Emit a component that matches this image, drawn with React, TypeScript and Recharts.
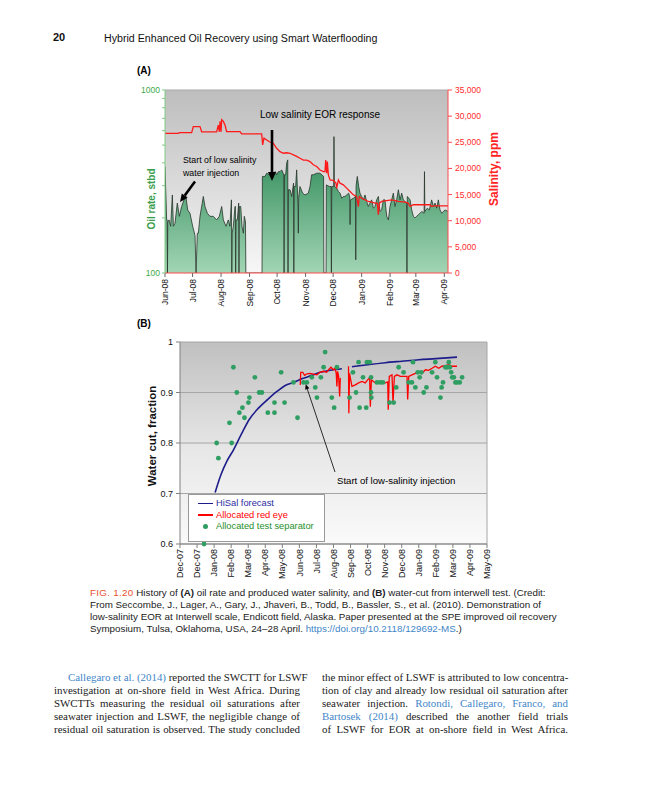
import React from "react";
import {
  Area,
  CartesianGrid,
  ComposedChart,
  Line,
  ReferenceLine,
  Scatter,
  XAxis,
  YAxis,
} from "recharts";

const SANS = '"Liberation Sans", Arial, Helvetica, sans-serif';
const SERIF = '"Liberation Serif", "Times New Roman", serif';

/* ---------- (A) oil rate and salinity, x = days since 1 Jun 2008 ---------- */

const monthTicksA = [0, 30, 61, 92, 122, 153, 183, 214, 245, 273, 304];
const monthLabelsA = [
  "Jun-08", "Jul-08", "Aug-08", "Sep-08", "Oct-08", "Nov-08",
  "Dec-08", "Jan-09", "Feb-09", "Mar-09", "Apr-09",
];
const oilTicks = [100, 200, 300, 400, 500, 600, 700, 800, 900, 1000];
const salinityTicks = [0, 5000, 10000, 15000, 20000, 25000, 30000, 35000];

// [day, stbd]
const oilRate: [number, number][] = [
  [0, 382], [1.8, 195], [2.4, 195], [2.7, 100], [3.0, 190], [4.4, 195], [6.2, 180],
  [8.0, 267], [9.1, 180], [10.9, 187], [13.4, 241], [15.6, 204], [18.1, 231],
  [20.7, 251], [22.5, 267], [24.7, 221], [27.2, 212], [30.1, 180], [32.7, 160],
  [33.8, 100], [35.2, 165], [36.3, 165], [38.1, 204], [41.7, 262], [43.5, 231],
  [46.1, 212], [49.0, 204], [52.6, 204], [56.2, 195], [59.1, 204], [61.7, 231],
  [63.5, 195], [66.4, 180], [68.9, 195], [70.7, 180], [72.3, 251], [72.7, 100],
  [73.1, 165], [74.4, 180], [76.2, 231], [76.6, 231], [76.9, 100], [77.3, 195],
  [78.7, 195], [80.2, 241], [80.5, 100], [80.9, 231], [82.4, 231], [83.8, 180],
  [85.3, 165], [86.3, 204], [87.6, 190], [88.0, 100], [105.6, 100], [106.0, 337],
  [108.8, 337], [110.7, 351], [113.6, 344], [116.1, 337], [117.9, 351], [120.1, 358],
  [121.5, 344], [123.4, 358], [125.2, 358], [127.0, 366], [129.3, 344], [129.6, 100],
  [130.0, 344], [131.3, 344], [132.4, 398], [133.6, 415], [133.9, 100], [134.3, 285],
  [136.1, 285], [137.9, 262], [139.9, 310], [140.2, 100], [140.6, 297], [142.2, 297],
  [143.3, 366], [144.8, 230], [145.1, 165], [145.5, 260], [146.9, 297], [149.8, 273],
  [152.4, 267], [156.0, 273], [157.8, 297], [159.6, 344], [161.4, 344], [165.1, 351],
  [168.7, 351], [172.6, 337], [172.9, 100], [175.3, 100], [175.6, 303], [178.9, 297],
  [180.8, 297], [181.1, 100], [181.5, 297], [183.6, 297], [183.9, 556], [184.3, 297],
  [186.8, 291], [188.7, 279], [190.5, 273], [192.3, 256], [194.1, 262], [195.9, 262],
  [197.7, 267], [199.9, 273], [201.1, 260], [201.4, 184], [201.8, 251], [205.0, 256],
  [207.3, 262], [207.6, 118], [208.0, 300], [209.3, 337], [210.8, 297], [212.2, 273],
  [214.0, 262], [215.9, 251], [217.7, 267], [219.5, 246], [221.3, 231], [223.1, 241],
  [224.9, 251], [226.8, 226], [228.6, 231], [230.4, 251], [232.2, 262], [234.0, 217],
  [235.8, 221], [237.6, 251], [239.4, 251], [241.3, 204], [243.1, 195], [244.9, 231],
  [246.7, 251], [248.5, 273], [250.3, 231], [252.1, 251], [254.0, 285], [255.8, 251],
  [257.6, 273], [259.4, 251], [263.0, 241], [263.3, 100], [263.7, 262], [266.7, 251],
  [268.5, 221], [270.3, 204], [272.1, 200], [273.9, 204], [275.7, 208], [277.5, 212],
  [279.4, 217], [282.0, 212], [282.4, 358], [282.8, 217], [285.5, 226], [287.7, 221],
  [290.2, 251], [292.1, 231], [293.9, 241], [295.7, 226], [297.5, 251], [299.3, 221],
  [301.1, 212], [302.9, 217], [304.8, 221], [308, 217],
];

// [day, ppm]
const salinity: [number, number][] = [
  [0, 26700], [14.5, 26700], [15.6, 26850], [29, 26850], [30.8, 28000], [38.1, 28000],
  [39.9, 27000], [56.2, 27000], [58, 28300], [59.1, 27000], [59.9, 29000], [61, 27000],
  [61.7, 29300], [63.5, 29000], [65.3, 28300], [67.1, 27050], [81.6, 27050],
  [83.4, 26600], [105.2, 26600], [106.3, 24500], [107.7, 25800], [110.7, 25450],
  [113.6, 25100], [117.9, 24800], [121.5, 23860], [125.2, 23200], [128.8, 22900],
  [132.4, 23000], [136.1, 22900], [139.7, 22600], [143.3, 22300], [146.9, 21950],
  [150.6, 21600], [154.2, 21600], [157.8, 21300], [161.4, 20700], [165.1, 20360],
  [168.7, 19700], [172.3, 19400], [174.1, 19400], [174.9, 21600], [176, 19100],
  [176.7, 21300], [177.8, 18770], [179.6, 17800], [183.2, 17700], [186.1, 17180],
  [186.8, 16200], [188.7, 17800], [190.5, 17180], [194.1, 16860], [197.7, 16230],
  [201.4, 15600], [205, 14950], [208.6, 14640], [210.4, 12700], [211.5, 14640],
  [214, 14300], [217.7, 14000], [221.3, 13680], [224.9, 13550], [228.6, 13360],
  [231.1, 13360], [232.2, 11140], [233.3, 13360], [235.8, 13680], [246.7, 14000],
  [254, 13680], [261.2, 13550], [264.8, 13360], [266.7, 12730], [270.3, 13050],
  [288.4, 13050], [290.2, 12730], [292.1, 12850], [308, 12850],
];

/* ---------- (B) water cut, x = month index from Dec-07 ---------- */

const monthLabelsB = [
  "Dec-07", "Dec-07", "Jan-08", "Feb-08", "Mar-08", "Apr-08", "May-08", "Jun-08",
  "Jul-08", "Aug-08", "Sep-08", "Oct-08", "Nov-08", "Dec-08", "Jan-09", "Feb-09",
  "Mar-09", "Apr-09", "May-09",
];
const waterCutTicks = [0.6, 0.7, 0.8, 0.9, 1];

const hisalForecast: [number, number | null][] = [
  [2.06, 0.702], [2.4, 0.737], [2.75, 0.764], [3.13, 0.786], [3.62, 0.819],
  [4.07, 0.847], [4.6, 0.869], [5.13, 0.886], [5.68, 0.902], [6.17, 0.914],
  [6.65, 0.92], [7.14, 0.927], [7.73, 0.934], [8.22, 0.94], [8.8, 0.944],
  [9.49, 0.947], [9.8, null], [10.08, 0.951], [11.0, 0.955], [12.04, 0.959],
  [13.01, 0.962], [14.0, 0.965], [15.0, 0.967], [16.24, 0.97],
];

const redEye: [number, number | null][] = [
  [7.05, 0.915], [7.08, 0.94], [7.2, 0.94], [7.3, 0.934], [7.45, 0.937], [7.63, 0.938],
  [8.03, 0.935], [8.2, 0.94], [8.42, 0.942], [8.6, 0.94], [8.71, 0.945], [8.85, 0.95],
  [9.0, 0.945], [9.1, 0.948], [9.16, 0.938], [9.2, 0.912], [9.24, 0.942], [9.3, 0.932],
  [9.36, 0.892], [9.4, 0.929], [9.6, null], [9.88, 0.952], [9.9, 0.859], [9.94, 0.938],
  [10.08, 0.912], [10.28, 0.915], [10.47, 0.919], [10.67, 0.922], [10.86, 0.919],
  [11.0, 0.925], [11.12, 0.929], [11.16, 0.872], [11.22, 0.925], [11.45, 0.919],
  [11.74, 0.919], [12.04, 0.919], [12.18, 0.921], [12.21, 0.866], [12.27, 0.932],
  [12.43, 0.935], [12.49, 0.879], [12.57, 0.932], [12.72, 0.935], [12.92, 0.932],
  [13.11, 0.932], [13.31, 0.932], [13.35, 0.886], [13.41, 0.932], [13.6, 0.935],
  [13.8, 0.938], [13.99, 0.942], [14.19, 0.938], [14.39, 0.945], [14.58, 0.944],
  [14.78, 0.948], [14.97, 0.952], [15.17, 0.948], [15.36, 0.952], [15.56, 0.953],
  [15.76, 0.955], [15.96, 0.952], [16.24, 0.952],
];

const testSeparator: [number, number][] = [
  [1.41, 0.6], [2.15, 0.8], [2.25, 0.77], [2.9, 0.84], [3.03, 0.8], [3.13, 0.95],
  [3.33, 0.9], [3.48, 0.86], [3.66, 0.87], [3.78, 0.85], [4.01, 0.88], [4.07, 0.89],
  [4.39, 0.93], [4.64, 0.9], [4.8, 0.9], [5.15, 0.86], [5.54, 0.86], [5.54, 0.88],
  [5.93, 0.94], [6.13, 0.88], [6.65, 0.92], [6.89, 0.85], [7.24, 0.92], [7.44, 0.92],
  [7.73, 0.93], [7.93, 0.91], [8.03, 0.89], [8.26, 0.93], [8.42, 0.95], [8.51, 0.98],
  [8.9, 0.89], [9.04, 0.87], [9.2, 0.95], [9.94, 0.89], [10.14, 0.94], [10.32, 0.9],
  [10.47, 0.96], [10.53, 0.87], [10.73, 0.93], [10.92, 0.87], [10.96, 0.96],
  [11.12, 0.96], [11.2, 0.93], [11.2, 0.9], [11.22, 0.89], [11.55, 0.92], [11.74, 0.92],
  [11.9, 0.92], [12.29, 0.88], [12.53, 0.88], [12.68, 0.91], [12.82, 0.95], [13.11, 0.94],
  [13.41, 0.92], [13.6, 0.92], [13.66, 0.96], [13.8, 0.91], [13.94, 0.94], [14.05, 0.93],
  [14.15, 0.94], [14.29, 0.9], [14.45, 0.91], [14.78, 0.94], [14.97, 0.96], [15.07, 0.93],
  [15.27, 0.89], [15.34, 0.91], [15.42, 0.92], [15.56, 0.95], [15.66, 0.95], [15.76, 0.96],
  [15.82, 0.95], [15.9, 0.94], [15.96, 0.93], [16.06, 0.93], [16.15, 0.92], [16.24, 0.92],
  [16.4, 0.92], [16.54, 0.93],
];

const toXY = (pairs: [number, number | null][]) => pairs.map(([x, y]) => ({ x, y }));

function RotTick(props: any) {
  const { x, y, payload, labels, ticks, fontSize } = props;
  const label = ticks ? labels[ticks.indexOf(payload.value)] : labels[payload.value];
  return (
    <text
      x={x}
      y={y}
      transform={`rotate(-90 ${x} ${y})`}
      textAnchor="end"
      dy={fontSize * 0.35}
      fontSize={fontSize}
      fontFamily={SANS}
      fill="#111"
    >
      {label}
    </text>
  );
}

function Arrow({ x1, y1, x2, y2, width, head }: any) {
  const len = Math.hypot(x2 - x1, y2 - y1);
  const ux = (x2 - x1) / len;
  const uy = (y2 - y1) / len;
  const bx = x2 - ux * head;
  const by = y2 - uy * head;
  const px = -uy * head * 0.45;
  const py = ux * head * 0.45;
  return (
    <g>
      <line x1={x1} y1={y1} x2={bx} y2={by} stroke="#000" strokeWidth={width} />
      <polygon points={`${x2},${y2} ${bx + px},${by + py} ${bx - px},${by - py}`} fill="#000" />
    </g>
  );
}

function VLabel({ cx, cy, text, color, size }: any) {
  return (
    <div
      style={{
        position: "absolute",
        left: cx,
        top: cy,
        transform: "translate(-50%, -50%) rotate(-90deg)",
        whiteSpace: "nowrap",
        fontFamily: SANS,
        fontWeight: "bold",
        fontSize: size,
        color,
      }}
    >
      {text}
    </div>
  );
}

function OilSalinityChart() {
  return (
    <div style={{ position: "absolute", left: 100, top: 80 }}>
      <ComposedChart width={420} height={240} margin={{ top: 10, right: 32, bottom: 7, left: 0 }}>
        <defs>
          <linearGradient id="bgA" x1="0" y1="0" x2="0" y2="1">
            <stop offset="0%" stopColor="#bdbdbd" />
            <stop offset="100%" stopColor="#f7f7f7" />
          </linearGradient>
          <linearGradient id="oilFill" x1="0" y1="0" x2="0" y2="1">
            <stop offset="0%" stopColor="#34895a" />
            <stop offset="25%" stopColor="#44986a" />
            <stop offset="100%" stopColor="#a2d5b4" />
          </linearGradient>
        </defs>
        <CartesianGrid horizontal={false} vertical={false} fill="url(#bgA)" yAxisId="oil" />
        <XAxis
          dataKey="x"
          type="number"
          domain={[0, 308]}
          ticks={monthTicksA}
          allowDataOverflow
          height={40}
          tickSize={4}
          tickMargin={2}
          axisLine={{ stroke: "#ff4a4a" }}
          tickLine={{ stroke: "#666" }}
          tick={<RotTick labels={monthLabelsA} ticks={monthTicksA} fontSize={8.5} />}
          interval={0}
        />
        <YAxis
          yAxisId="oil"
          scale="log"
          type="number"
          domain={[100, 1000]}
          ticks={oilTicks}
          allowDataOverflow
          width={65}
          tickSize={3}
          tickMargin={2}
          interval={0}
          axisLine={{ stroke: "#7fca84" }}
          tickLine={{ stroke: "#7fca84" }}
          tick={{ fill: "#3daa4c", fontSize: 8.5, fontFamily: SANS }}
          tickFormatter={(v: number) => (v === 100 || v === 1000 ? String(v) : "")}
        />
        <YAxis
          yAxisId="sal"
          orientation="right"
          type="number"
          domain={[0, 35000]}
          ticks={salinityTicks}
          width={40}
          tickSize={4}
          tickMargin={3}
          interval={0}
          axisLine={{ stroke: "#ff4a4a" }}
          tickLine={{ stroke: "#ff4a4a" }}
          tick={{ fill: "#ff2b2b", fontSize: 8.5, fontFamily: SANS }}
          tickFormatter={(v: number) => v.toLocaleString("en-US")}
        />
        <ReferenceLine yAxisId="oil" y={1000} stroke="#a9a9a9" />
        <Area
          yAxisId="oil"
          data={toXY(oilRate)}
          dataKey="y"
          type="linear"
          baseValue={100}
          stroke="#27352b"
          strokeWidth={0.8}
          fill="url(#oilFill)"
          fillOpacity={1}
          isAnimationActive={false}
          dot={false}
          activeDot={false}
        />
        <Line
          yAxisId="sal"
          data={toXY(salinity)}
          dataKey="y"
          type="linear"
          stroke="#ff1a1a"
          strokeWidth={1.3}
          dot={false}
          activeDot={false}
          isAnimationActive={false}
        />
      </ComposedChart>
    </div>
  );
}

function WaterCutChart() {
  return (
    <div style={{ position: "absolute", left: 100, top: 330 }}>
      <ComposedChart width={420} height={260} margin={{ top: 12, right: 33, bottom: 6, left: 0 }}>
        <defs>
          <linearGradient id="bgB" x1="0" y1="0" x2="0" y2="1">
            <stop offset="0%" stopColor="#c0c0c0" />
            <stop offset="55%" stopColor="#e8e8e8" />
            <stop offset="100%" stopColor="#fafafa" />
          </linearGradient>
        </defs>
        <CartesianGrid vertical={false} stroke="#a6a6a6" fill="url(#bgB)" />
        <XAxis
          dataKey="x"
          type="number"
          domain={[0, 18]}
          ticks={monthLabelsB.map((_, i) => i)}
          interval={0}
          height={40}
          tickSize={4}
          tickMargin={1}
          axisLine={{ stroke: "#808080" }}
          tickLine={{ stroke: "#808080" }}
          tick={<RotTick labels={monthLabelsB} fontSize={9} />}
        />
        <YAxis
          type="number"
          domain={[0.6, 1]}
          ticks={waterCutTicks}
          interval={0}
          width={80}
          tickSize={4}
          tickMargin={3}
          axisLine={{ stroke: "#808080" }}
          tickLine={{ stroke: "#808080" }}
          tick={{ fill: "#111", fontSize: 9, fontFamily: SANS }}
          tickFormatter={(v: number) => (v === 1 ? "1" : v.toFixed(1))}
        />
        <ReferenceLine x={18} stroke="#a6a6a6" />
        <Line
          data={toXY(hisalForecast)}
          dataKey="y"
          type="monotone"
          stroke="#1c1c8a"
          strokeWidth={1.6}
          dot={false}
          activeDot={false}
          isAnimationActive={false}
        />
        <Line
          data={toXY(redEye)}
          dataKey="y"
          type="linear"
          stroke="#ff0000"
          strokeWidth={1.3}
          dot={false}
          activeDot={false}
          isAnimationActive={false}
        />
        <Scatter
          data={toXY(testSeparator)}
          dataKey="y"
          isAnimationActive={false}
          shape={(p: any) => <circle cx={p.cx} cy={p.cy} r={2.4} fill="#2f9e62" />}
        />
      </ComposedChart>
    </div>
  );
}

const lineStyle = (w: number, indent = 0): React.CSSProperties => ({
  width: w - indent,
  marginLeft: indent,
  height: 13.2,
  lineHeight: "13.2px",
  whiteSpace: "nowrap",
  textAlign: "justify",
  textAlignLast: "justify",
});

const LINK = "#3f86c8";

export default function App() {
  return (
    <div
      style={{
        position: "absolute",
        left: 0,
        top: 0,
        width: 648,
        height: 800,
        background: "#fff",
        overflow: "hidden",
        fontFamily: SANS,
      }}
    >
      <div style={{ position: "absolute", left: 53, top: 31, fontSize: 11, fontWeight: "bold", color: "#111" }}>20</div>
      <div style={{ position: "absolute", left: 104, top: 31.5, fontSize: 10.65, color: "#111", whiteSpace: "nowrap" }}>
        Hybrid Enhanced Oil Recovery using Smart Waterflooding
      </div>

      <div style={{ position: "absolute", left: 137, top: 65, fontSize: 10, fontWeight: "bold" }}>(A)</div>
      <div style={{ position: "absolute", left: 137, top: 318, fontSize: 10, fontWeight: "bold" }}>(B)</div>

      <OilSalinityChart />
      <WaterCutChart />

      <VLabel cx={151} cy={199} text="Oil rate, stbd" color="#3c9e4c" size={10} />
      <VLabel cx={494} cy={169} text="Salinity, ppm" color="#ff2424" size={12} />
      <VLabel cx={152} cy={436} text="Water cut, fraction" color="#111" size={11.5} />

      {/* legend of (B) */}
      <div
        style={{
          position: "absolute",
          left: 188,
          top: 494,
          width: 137,
          height: 48,
          background: "#fff",
          border: "1px solid #9a9a9a",
          boxSizing: "border-box",
          fontSize: 9.3,
        }}
      >
        <div style={{ position: "absolute", left: 9, top: 7.5, width: 15, height: 1.6, background: "#1c1c8a" }} />
        <div style={{ position: "absolute", left: 27, top: 3, color: "#2c2ca0", whiteSpace: "nowrap" }}>HiSal forecast</div>
        <div style={{ position: "absolute", left: 9, top: 19.3, width: 15, height: 1.4, background: "#ff0000" }} />
        <div style={{ position: "absolute", left: 27, top: 14.7, color: "#ff0000", whiteSpace: "nowrap" }}>Allocated red eye</div>
        <div style={{ position: "absolute", left: 14, top: 28.5, width: 5, height: 5, borderRadius: 3, background: "#2f9e62" }} />
        <div style={{ position: "absolute", left: 27, top: 26.4, color: "#1f8f2a", whiteSpace: "nowrap" }}>Allocated test separator</div>
      </div>

      {/* annotations */}
      <svg width={648} height={800} style={{ position: "absolute", left: 0, top: 0, pointerEvents: "none" }}>
        <text x={260} y={117.5} fontSize={10} fontFamily={SANS} fill="#000">Low salinity EOR response</text>
        <Arrow x1={272} y1={130} x2={272} y2={181} width={2.6} head={9} />
        <text x={183} y={163} fontSize={8.8} fontFamily={SANS} fill="#000">Start of low salinity</text>
        <text x={183} y={175.7} fontSize={8.8} fontFamily={SANS} fill="#000">water injection</text>
        <Arrow x1={195} y1={181.5} x2={180} y2={202} width={2.6} head={8} />
        <text x={337} y={484.3} fontSize={9.6} fontFamily={SANS} fill="#000">Start of low-salinity injection</text>
        <Arrow x1={335} y1={472} x2={305.7} y2={384.3} width={0.8} head={5} />
      </svg>

      {/* caption */}
      <div style={{ position: "absolute", left: 90, top: 587.3, fontSize: 9.8, lineHeight: "12px", color: "#222", whiteSpace: "nowrap" }}>
        <div>
          <span style={{ color: "#e9532f", letterSpacing: 0.3 }}>FIG. 1.20</span> History of <b>(A)</b> oil rate and
          produced water salinity, and <b>(B)</b> water-cut from interwell test. (Credit:
        </div>
        <div>
          From Seccombe, J., Lager, A., Gary, J., Jhaveri, B., Todd, B., Bassler, S., et al. (2010). Demonstration of
        </div>
        <div>
          low-salinity EOR at Interwell scale, Endicott field, Alaska. Paper presented at the SPE improved oil recovery
        </div>
        <div>
          Symposium, Tulsa, Oklahoma, USA, 24–28 April.{" "}
          <span style={{ color: LINK }}>https://doi.org/10.2118/129692-MS</span>.)
        </div>
      </div>

      {/* body text */}
      <div style={{ position: "absolute", left: 54, top: 670.7, fontFamily: SERIF, fontSize: 10.9, color: "#1a1a1a" }}>
        <div style={lineStyle(246, 14)}>
          <span style={{ color: LINK }}>Callegaro et al. (2014)</span> reported the SWCTT for LSWF
        </div>
        <div style={lineStyle(246)}>investigation at on-shore field in West Africa. During</div>
        <div style={lineStyle(246)}>SWCTTs measuring the residual oil saturations after</div>
        <div style={lineStyle(246)}>seawater injection and LSWF, the negligible change of</div>
        <div style={lineStyle(246)}>residual oil saturation is observed. The study concluded</div>
      </div>
      <div style={{ position: "absolute", left: 322, top: 670.7, fontFamily: SERIF, fontSize: 10.9, color: "#1a1a1a" }}>
        <div style={lineStyle(246)}>the minor effect of LSWF is attributed to low concentra-</div>
        <div style={lineStyle(246)}>tion of clay and already low residual oil saturation after</div>
        <div style={lineStyle(246)}>
          seawater injection. <span style={{ color: LINK }}>Rotondi, Callegaro, Franco, and</span>
        </div>
        <div style={lineStyle(246)}>
          <span style={{ color: LINK }}>Bartosek (2014)</span> described the another field trials
        </div>
        <div style={lineStyle(246)}>of LSWF for EOR at on-shore field in West Africa.</div>
      </div>
    </div>
  );
}
